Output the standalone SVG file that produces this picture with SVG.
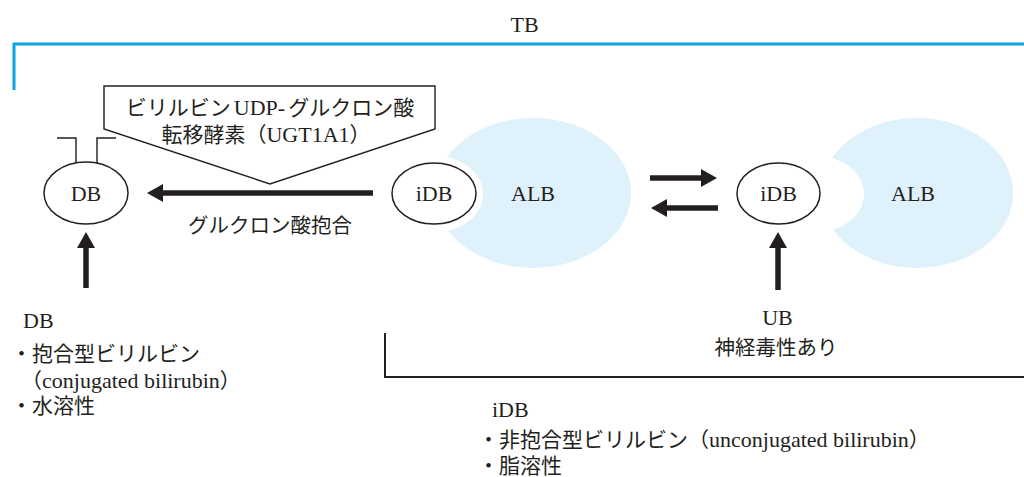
<svg xmlns="http://www.w3.org/2000/svg" width="1024" height="477" viewBox="0 0 1024 477">
<style>
  .lat { font-family: "Liberation Serif", "Noto Sans CJK JP", serif; font-size: 22px; fill: #231f20; }
  .mix { font-family: "Liberation Serif", "Noto Sans CJK JP", serif; font-size: 21px; fill: #231f20; }
  .mix .l { font-size: 22px; }
  .jp { font-family: "Noto Sans CJK JP", sans-serif; font-size: 20.5px; fill: #231f20; }
  .thin { fill: none; stroke: #231f20; stroke-width: 1.4; }
  .arrow { fill: none; stroke: #231f20; stroke-width: 5.5; }
  .alb { fill: #dff1fa; }
  .ell { fill: #ffffff; stroke: #231f20; stroke-width: 1.5; }
</style>
<defs>
  <marker id="ah" viewBox="0 0 16 18" refX="6" refY="9" markerWidth="16" markerHeight="18" markerUnits="userSpaceOnUse" orient="auto">
    <path d="M0,0 L16,9 L0,18 Z" fill="#231f20"/>
  </marker>
</defs>
<rect width="1024" height="477" fill="#ffffff"/>

<g id="tb-bracket">
  <text class="lat" x="524.5" y="32" text-anchor="middle">TB</text>
  <path d="M14,90 V44 H1024" fill="none" stroke="#0aa5e0" stroke-width="3"/>
</g>

<g id="ub-bracket">
  <path d="M385,333 V377 H1024" fill="none" stroke="#231f20" stroke-width="2"/>
  <text class="lat" x="777.5" y="325" text-anchor="middle">UB</text>
  <text class="jp" x="776" y="355" text-anchor="middle">神経毒性あり</text>
</g>

<g id="enzyme">
  <polygon class="thin" points="104,86 435,86 435,129 270,184 104,129" fill="#ffffff"/>
  <text class="mix" x="270" y="115" text-anchor="middle">ビリルビン<tspan class="l" dx="3">UDP-</tspan><tspan dx="3">グルクロン酸</tspan></text>
  <text class="mix" x="266" y="142" text-anchor="middle">転移酵素（<tspan class="l">UGT1A1</tspan>）</text>
</g>

<g id="db">
  <path class="thin" d="M57,138 H76 V163 M116,138 H97 V163"/>
  <ellipse class="ell" cx="86" cy="193" rx="42" ry="31"/>
  <text class="lat" x="86" y="201" text-anchor="middle">DB</text>
</g>

<g id="alb1">
  <ellipse class="alb" cx="533" cy="193" rx="98" ry="75"/>
  <ellipse cx="434" cy="194" rx="49" ry="38.5" fill="#ffffff"/>
  <text class="lat" x="533" y="201" text-anchor="middle">ALB</text>
</g>

<g id="idb1">
  <ellipse class="ell" cx="434" cy="193.5" rx="42" ry="30.5"/>
  <text class="lat" x="434" y="201" text-anchor="middle">iDB</text>
</g>

<g id="alb2">
  <ellipse class="alb" cx="917" cy="193" rx="96" ry="75"/>
  <ellipse cx="815" cy="194" rx="49" ry="38.5" fill="#ffffff"/>
  <text class="lat" x="913" y="201" text-anchor="middle">ALB</text>
</g>

<g id="idb2">
  <ellipse class="ell" cx="778.5" cy="193.5" rx="41.5" ry="30.5"/>
  <text class="lat" x="778.5" y="201" text-anchor="middle">iDB</text>
</g>

<g id="connectors">
  <line class="arrow" x1="373" y1="193" x2="157" y2="193" marker-end="url(#ah)"/>
  <line class="arrow" x1="650" y1="178" x2="707" y2="178" marker-end="url(#ah)"/>
  <line class="arrow" x1="718" y1="208" x2="661" y2="208" marker-end="url(#ah)"/>
  <line class="arrow" x1="86" y1="288" x2="86" y2="242" marker-end="url(#ah)"/>
  <line class="arrow" x1="778" y1="290" x2="778" y2="242" marker-end="url(#ah)"/>
  <text class="jp" x="270" y="233" text-anchor="middle">グルクロン酸抱合</text>
</g>

<g id="db-note">
  <text class="lat" x="23" y="328">DB</text>
  <text class="mix" x="11" y="361">・抱合型ビリルビン</text>
  <text class="mix" x="21" y="388">（<tspan class="l">conjugated bilirubin</tspan>）</text>
  <text class="mix" x="11" y="413">・水溶性</text>
</g>

<g id="idb-note">
  <text class="lat" x="492" y="417">iDB</text>
  <text class="mix" x="478" y="447">・非抱合型ビリルビン（<tspan class="l">unconjugated bilirubin</tspan>）</text>
  <text class="mix" x="478" y="473">・脂溶性</text>
</g>
</svg>
